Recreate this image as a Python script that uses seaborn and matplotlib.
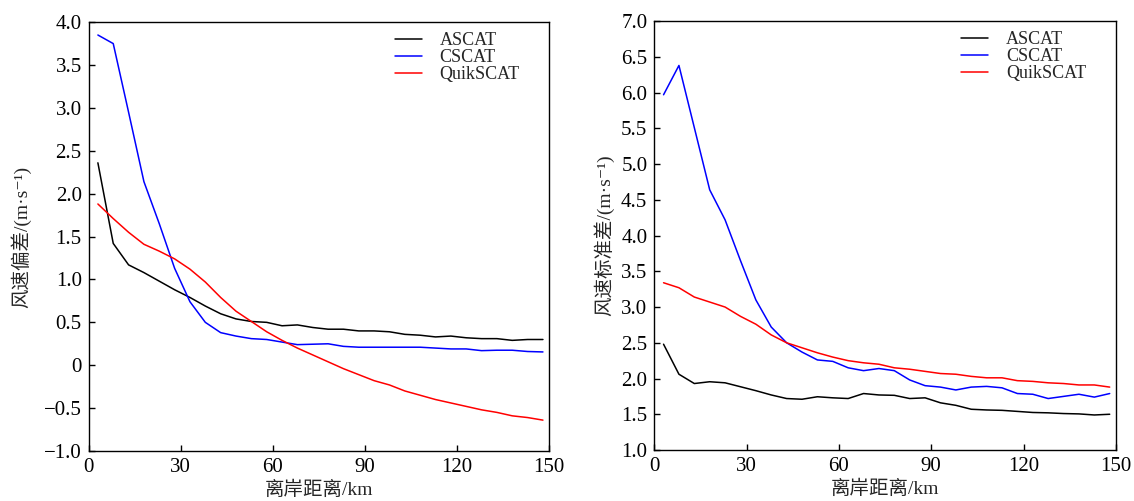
import numpy as np
import pandas as pd
import matplotlib
matplotlib.use("Agg")
import matplotlib.pyplot as plt
import seaborn as sns

distance = list(range(3, 150, 5))
series_names = ["ASCAT", "CSCAT", "QuikSCAT"]
colors = ["black", "blue", "red"]

bias_ascat = [2.36, 1.42, 1.17, 1.08, 0.98, 0.88, 0.79, 0.69, 0.60, 0.54, 0.51, 0.50, 0.46, 0.47, 0.44,
              0.42, 0.42, 0.40, 0.40, 0.39, 0.36, 0.35, 0.33, 0.34, 0.32, 0.31, 0.31, 0.29, 0.30, 0.30]
bias_cscat = [3.85, 3.75, 2.95, 2.14, 1.65, 1.13, 0.74, 0.50, 0.38, 0.34, 0.31, 0.30, 0.27, 0.24, 0.245,
              0.25, 0.22, 0.21, 0.21, 0.21, 0.21, 0.21, 0.20, 0.19, 0.19, 0.17, 0.175, 0.175, 0.16, 0.155]
bias_quik = [1.88, 1.71, 1.55, 1.41, 1.33, 1.24, 1.12, 0.97, 0.79, 0.63, 0.51, 0.39, 0.29, 0.20, 0.12,
             0.04, -0.04, -0.11, -0.18, -0.23, -0.30, -0.35, -0.40, -0.44, -0.48, -0.52, -0.55, -0.59, -0.61, -0.64]

std_ascat = [2.48, 2.06, 1.93, 1.955, 1.94, 1.885, 1.83, 1.77, 1.72, 1.71, 1.745, 1.73, 1.72, 1.79, 1.77,
             1.765, 1.72, 1.73, 1.66, 1.625, 1.57, 1.56, 1.555, 1.54, 1.525, 1.52, 1.51, 1.505, 1.49, 1.50]
std_cscat = [5.97, 6.38, 5.51, 4.64, 4.22, 3.65, 3.10, 2.72, 2.50, 2.37, 2.26, 2.24, 2.15, 2.11, 2.14,
             2.11, 1.98, 1.90, 1.88, 1.84, 1.88, 1.89, 1.87, 1.79, 1.78, 1.72, 1.75, 1.78, 1.74, 1.79]
std_quik = [3.34, 3.27, 3.14, 3.07, 3.00, 2.87, 2.76, 2.61, 2.50, 2.43, 2.36, 2.30, 2.25, 2.22, 2.20,
            2.15, 2.13, 2.10, 2.07, 2.06, 2.03, 2.01, 2.01, 1.97, 1.96, 1.94, 1.93, 1.91, 1.91, 1.88]

x_ticks = [0, 30, 60, 90, 120, 150]
left_yticks = [-1.0, -0.5, 0, 0.5, 1.0, 1.5, 2.0, 2.5, 3.0, 3.5, 4.0]
left_yticklabels = ["\u22121.0", "\u22120.5", "0", "0.5", "1.0", "1.5", "2.0", "2.5", "3.0", "3.5", "4.0"]
right_yticks = [1.0, 1.5, 2.0, 2.5, 3.0, 3.5, 4.0, 4.5, 5.0, 5.5, 6.0, 6.5, 7.0]
right_yticklabels = ["%.1f" % v for v in right_yticks]

xlabel = "离岸距离/km"
left_ylabel = "风速偏差/(m·s\u207b\u00b9)"
right_ylabel = "风速标准差/(m·s\u207b\u00b9)"

sns.set_style("ticks")
plt.rcParams["font.family"] = ["Liberation Serif", "DejaVu Serif", "Noto Sans CJK SC"]
plt.rcParams["axes.unicode_minus"] = True


def long_df(a, b, c):
    frames = []
    for name, vals in zip(series_names, [a, b, c]):
        frames.append(pd.DataFrame({"distance": distance, "value": vals, "series": name}))
    return pd.concat(frames, ignore_index=True)


fig = plt.figure(figsize=(11.34, 5.01), dpi=100)
ax1 = fig.add_axes([0.0782, 0.0998, 0.406, 0.856])
ax2 = fig.add_axes([0.577, 0.1018, 0.407, 0.856])

palette = dict(zip(series_names, colors))
panels = [
    (ax1, long_df(bias_ascat, bias_cscat, bias_quik), left_yticks, left_yticklabels, (-1.0, 4.0), left_ylabel, 9),
    (ax2, long_df(std_ascat, std_cscat, std_quik), right_yticks, right_yticklabels, (1.0, 7.0), right_ylabel, 5),
]

for ax, df, yt, ytl, ylim, ylab, lpad in panels:
    sns.lineplot(data=df, x="distance", y="value", hue="series", palette=palette,
                 hue_order=series_names, linewidth=1.1, ax=ax, errorbar=None)
    ax.set_xlim(0, 150)
    ax.set_ylim(*ylim)
    ax.set_xticks(x_ticks)
    ax.set_xticklabels([str(v) for v in x_ticks])
    ax.set_yticks(yt)
    ax.set_yticklabels(ytl)
    ax.tick_params(direction="in", length=4, width=1, labelsize=15, pad=5,
                   top=False, right=False, colors="black")
    for sp in ax.spines.values():
        sp.set_visible(True)
        sp.set_color("black")
        sp.set_linewidth(1.0)
    ax.set_xlabel(xlabel, fontsize=14, labelpad=3)
    ax.set_ylabel(ylab, fontsize=14, labelpad=lpad)
    leg = ax.legend(loc="upper left", bbox_to_anchor=(0.637, 1.006), frameon=False,
                    fontsize=13, handlelength=1.5, handletextpad=1.0,
                    labelspacing=0.0, borderaxespad=0.3)

fig.savefig("out.png", dpi=100)
